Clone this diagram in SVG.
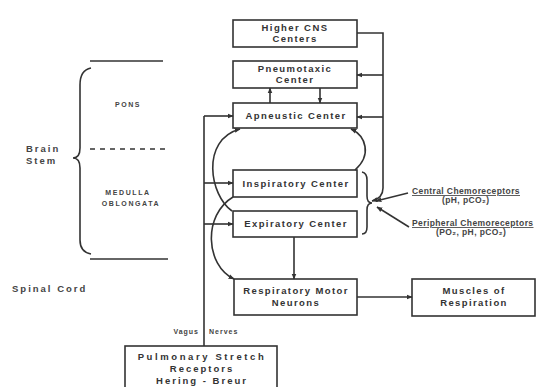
<svg xmlns="http://www.w3.org/2000/svg" width="546" height="387" viewBox="0 0 546 387">
  <style>
    .box { fill: #fff; stroke: #333; stroke-width: 1.6; }
    .lbl { font-family: "Liberation Sans", Arial, sans-serif; font-weight: bold; font-size: 9.5px; letter-spacing: 1.4px; fill: #333; text-anchor: middle; }
    .sm { font-family: "Liberation Sans", Arial, sans-serif; font-weight: bold; font-size: 7px; letter-spacing: 1.6px; fill: #444; text-anchor: middle; }
    .side { font-family: "Liberation Sans", Arial, sans-serif; font-weight: bold; font-size: 9.5px; letter-spacing: 2px; fill: #444; }
    .chem { font-family: "Liberation Sans", Arial, sans-serif; font-weight: bold; font-size: 8.5px; letter-spacing: 0.4px; fill: #444; }
    .ln { fill: none; stroke: #333; stroke-width: 1.6; }
    .arr { fill: none; stroke: #333; stroke-width: 1.6; marker-end: url(#ah); }
  </style>
  <defs>
    <marker id="ah" viewBox="0 0 10 10" refX="9" refY="5" markerWidth="6" markerHeight="6" markerUnits="userSpaceOnUse" orient="auto">
      <path d="M0,1 L10,5 L0,9 Z" fill="#333"/>
    </marker>
  </defs>

  <rect width="546" height="387" fill="#fff"/>

  <!-- brain stem anatomy labels -->
  <g id="brainstem">
    <path class="ln" d="M90,61 H163"/>
    <path class="ln" d="M90,259 H168"/>
    <path class="ln" d="M90,149 H170" stroke-dasharray="5 5" stroke-width="1.2"/>
    <path class="ln" d="M91,68 Q80,70 80,85 V148 Q80,158 73,158 Q80,158 80,168 V240 Q80,252 91,254"/>
    <text class="sm" x="128" y="107">PONS</text>
    <text class="sm" x="128" y="195">MEDULLA</text>
    <text class="sm" x="131" y="206">OBLONGATA</text>
    <text class="side" x="26" y="152">Brain</text>
    <text class="side" x="26" y="164">Stem</text>
    <text class="side" x="12" y="292">Spinal Cord</text>
  </g>

  <g id="higher-cns">
    <rect class="box" x="233" y="20" width="124" height="27"/>
    <text class="lbl" x="295" y="31">Higher CNS</text>
    <text class="lbl" x="295" y="42">Centers</text>
  </g>
  <g id="pneumotaxic">
    <rect class="box" x="233" y="61" width="124" height="27"/>
    <text class="lbl" x="295" y="72">Pneumotaxic</text>
    <text class="lbl" x="295" y="83">Center</text>
  </g>
  <g id="apneustic">
    <rect class="box" x="233" y="103" width="124" height="25"/>
    <text class="lbl" x="296" y="119">Apneustic Center</text>
  </g>
  <g id="inspiratory">
    <rect class="box" x="233" y="170" width="124" height="27"/>
    <text class="lbl" x="296" y="187">Inspiratory Center</text>
  </g>
  <g id="expiratory">
    <rect class="box" x="233" y="211" width="124" height="26"/>
    <text class="lbl" x="296" y="227">Expiratory Center</text>
  </g>
  <g id="motor-neurons">
    <rect class="box" x="234" y="279" width="123" height="36"/>
    <text class="lbl" x="296" y="294">Respiratory Motor</text>
    <text class="lbl" x="296" y="306">Neurons</text>
  </g>
  <g id="muscles">
    <rect class="box" x="412" y="279" width="123" height="37"/>
    <text class="lbl" x="474" y="294">Muscles of</text>
    <text class="lbl" x="474" y="306">Respiration</text>
  </g>
  <g id="stretch-receptors">
    <rect class="box" x="125" y="346" width="152" height="50"/>
    <text class="lbl" x="202" y="360" style="letter-spacing:2.6px">Pulmonary Stretch</text>
    <text class="lbl" x="202" y="372" style="letter-spacing:2px">Receptors</text>
    <text class="lbl" x="202" y="384" style="letter-spacing:2px">Hering - Breur</text>
  </g>
  <g id="chemoreceptors">
    <text class="chem" x="412" y="194" text-decoration="underline">Central Chemoreceptors</text>
    <text class="chem" x="442" y="203">(pH, pCO₂)</text>
    <text class="chem" x="412" y="226" text-decoration="underline">Peripheral Chemoreceptors</text>
    <text class="chem" x="436" y="235">(PO₂, pH, pCO₂)</text>
  </g>

  <g id="connectors">
    <!-- vagus nerves -->
    <path class="ln" d="M204,346 V116"/>
    <path class="arr" d="M204,116 H233"/>
    <path class="arr" d="M204,183 H233"/>
    <path class="arr" d="M204,224 H233"/>
    <text class="side" x="199" y="334" text-anchor="end" style="font-size:7px;letter-spacing:1px">Vagus</text>
    <text class="side" x="209" y="334" style="font-size:7px;letter-spacing:1px">Nerves</text>
    <!-- higher centers feedback line -->
    <path class="arr" d="M357,33 H383 V188 Q383,198 372,201"/>
    <path class="arr" d="M383,75 H357"/>
    <path class="arr" d="M383,117 H357"/>
    <!-- pneumotaxic / apneustic -->
    <path class="arr" d="M270,103 V88"/>
    <path class="arr" d="M320,88 V103"/>
    <!-- loops -->
    <path class="arr" d="M232,211 C210,196 200,140 240,129"/>
    <path class="arr" d="M233,197 C203,215 205,265 234,279"/>
    <path class="arr" d="M355,170 C372,155 366,136 351,129"/>
    <!-- to motor neurons and muscles -->
    <path class="arr" d="M294,237 V279"/>
    <path class="arr" d="M357,297 H412"/>
    <!-- chemoreceptor brace and inputs -->
    <path class="ln" stroke-width="1.3" d="M362,172 Q367,173 367,180 V196 Q367,203 372,203 Q367,203 367,210 V227 Q367,234 362,234"/>
    <path class="arr" d="M408,193 L376,201"/>
    <path class="arr" d="M409,227 L377,207"/>
  </g>
</svg>
